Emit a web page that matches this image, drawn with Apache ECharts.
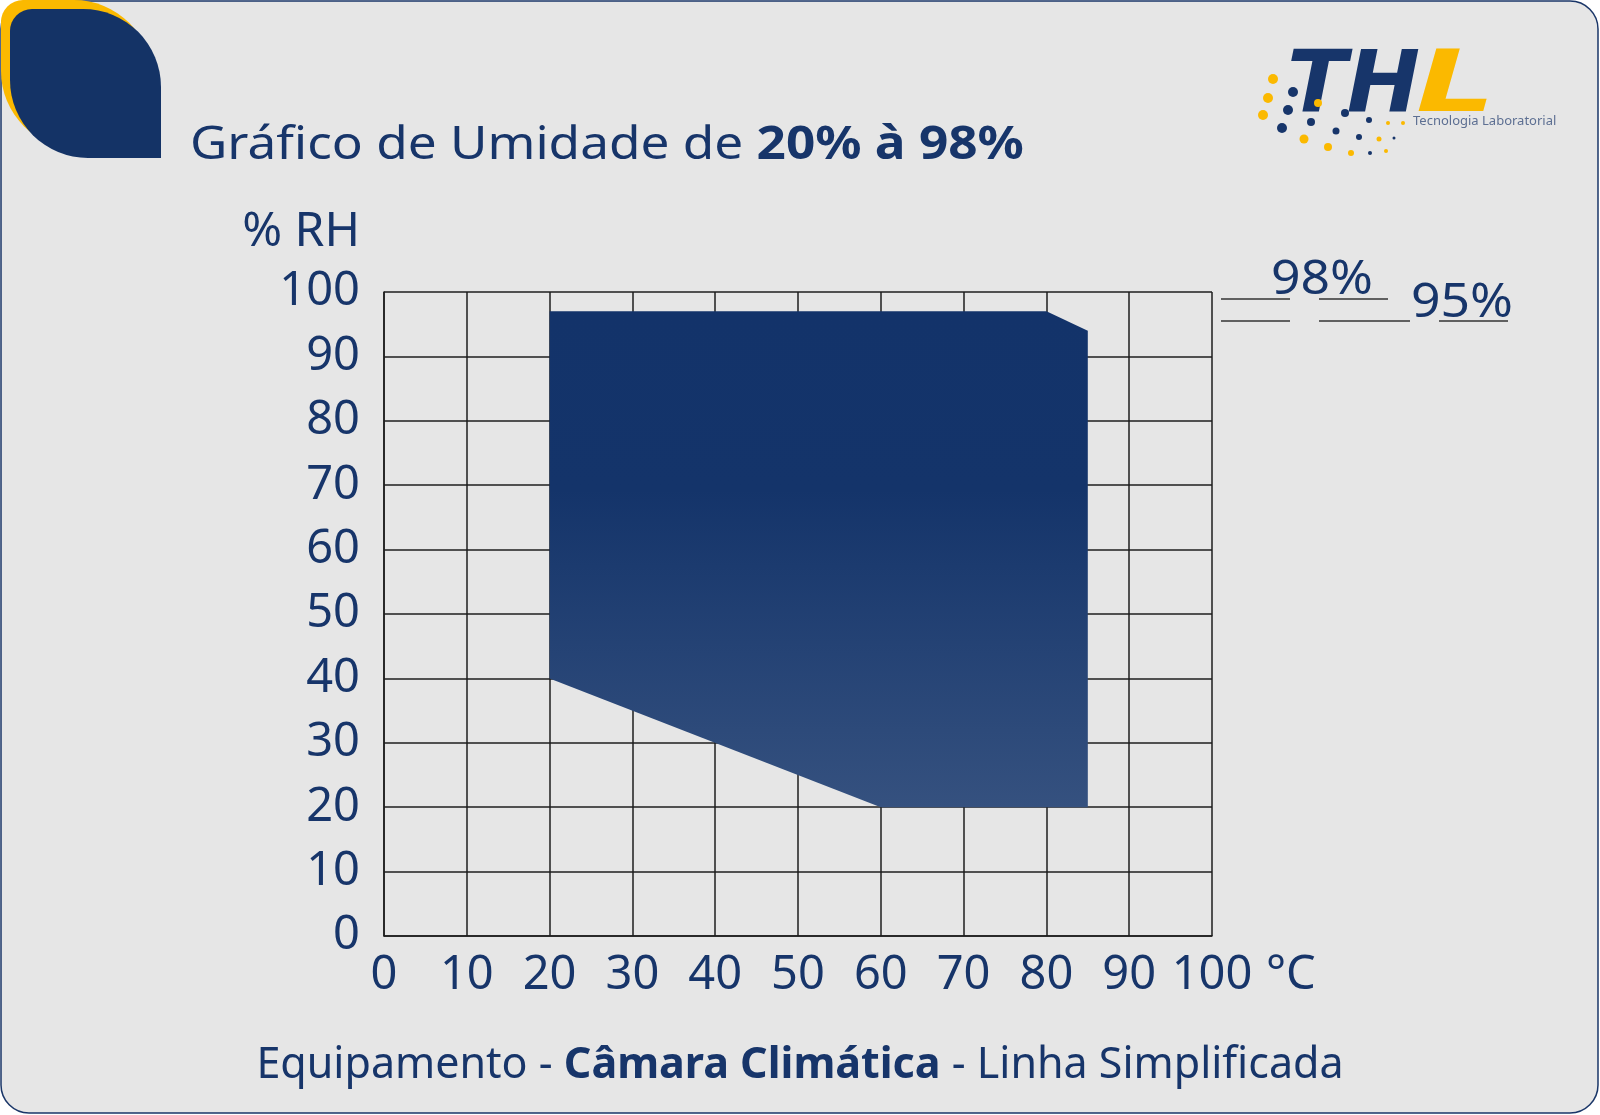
<!DOCTYPE html>
<html><head><meta charset="utf-8">
<script src="https://cdn.jsdelivr.net/npm/echarts@6/dist/echarts.min.js"></script>
<style>html,body{margin:0;padding:0;background:#ffffff;}#c{width:1600px;height:1115px;}</style>
</head><body><div id="c"></div>
<script>
// ---- data ----
const temperatureC = [20, 80, 85, 85, 60, 20];   // polygon vertices (°C)
const humidityRH   = [97, 97, 94, 20, 20, 40];   // polygon vertices (% RH)
const xTicks = [0, 10, 20, 30, 40, 50, 60, 70, 80, 90, 100];
const yTicks = [0, 10, 20, 30, 40, 50, 60, 70, 80, 90, 100];
const rangeLabels = ['98%', '95%'];
const titleNormal = 'Gráfico de Umidade de ';
const titleBold = '20% à 98%';
const footerParts = ['Equipamento - ', 'Câmara Climática', ' - Linha Simplificada'];
const xName = '°C';
const yName = '% RH';

const NAVY = '#17356a';
const FONT = 'Noto Sans';

const chart = echarts.init(document.getElementById('c'));

const logoDots = [
  // [x, y, r, colour]
  [1273, 79, 5, '#fbb900'], [1268, 98, 5, '#fbb900'], [1263, 115, 5, '#fbb900'],
  [1304, 139, 4.5, '#fbb900'], [1328, 147, 4, '#fbb900'], [1351, 153, 3, '#fbb900'],
  [1379, 139, 2.5, '#fbb900'], [1386, 151, 2, '#fbb900'], [1388, 123, 2, '#fbb900'],
  [1403, 123, 2, '#fbb900'], [1318, 103, 4, '#fbb900'],
  [1293, 92, 5, NAVY], [1288, 110, 5, NAVY], [1282, 128, 5, NAVY],
  [1311, 122, 4, NAVY], [1345, 113, 4, NAVY], [1336, 131, 3.5, NAVY],
  [1369, 120, 3, NAVY], [1359, 137, 3, NAVY], [1370, 153, 2, NAVY], [1394, 138, 1.5, NAVY]
];

const graphics = [
  { type: 'rect', z: -10, shape: { x: 1, y: 1, width: 1597, height: 1112, r: 28 },
    style: { fill: '#e6e6e6', stroke: '#1a3668', lineWidth: 1.5 } },
  { type: 'rect', z: -5, shape: { x: 1, y: 0, width: 151, height: 149, r: [22, 78, 0, 78] },
    style: { fill: '#fbb900' } },
  { type: 'rect', z: -4, shape: { x: 10, y: 9, width: 151, height: 149, r: [22, 78, 0, 78] },
    style: { fill: '#143366' } },
  // title
  { type: 'text', x: 190, y: 123, scaleX: 1.115,
    style: { text: '{n|' + titleNormal + '}{b|' + titleBold + '}', textVerticalAlign: 'top',
      rich: {
        n: { fontFamily: FONT, fontSize: 46, fill: NAVY, color: NAVY, fontWeight: 400 },
        b: { fontFamily: FONT, fontSize: 46, fill: NAVY, color: NAVY, fontWeight: 700 } } } },
  // range annotations
  { type: 'line', shape: { x1: 1221, y1: 299, x2: 1290, y2: 299 }, style: { stroke: '#333', lineWidth: 1.5 } },
  { type: 'line', shape: { x1: 1319, y1: 299, x2: 1388, y2: 299 }, style: { stroke: '#333', lineWidth: 1.5 } },
  { type: 'line', shape: { x1: 1221, y1: 321, x2: 1290, y2: 321 }, style: { stroke: '#333', lineWidth: 1.5 } },
  { type: 'line', shape: { x1: 1319, y1: 321, x2: 1410, y2: 321 }, style: { stroke: '#333', lineWidth: 1.5 } },
  { type: 'line', shape: { x1: 1439, y1: 321, x2: 1508, y2: 321 }, style: { stroke: '#333', lineWidth: 1.5 } },
  { type: 'text', x: 1322, y: 304, scaleX: 1.1, style: { x: 0, y: 0, text: rangeLabels[0], fill: NAVY, font: '47px "' + FONT + '"',
    textAlign: 'center', textVerticalAlign: 'bottom' } },
  { type: 'text', x: 1462, y: 327, scaleX: 1.1, style: { x: 0, y: 0, text: rangeLabels[1], fill: NAVY, font: '47px "' + FONT + '"',
    textAlign: 'center', textVerticalAlign: 'bottom' } },
  // logo
  { type: 'text', x: 1287, y: 132, scaleX: 1.02, style: { x: 0, y: 0, text: 'TH', fill: NAVY,
    font: 'italic 900 86px "DejaVu Sans"', textVerticalAlign: 'bottom' } },
  { type: 'text', x: 1416, y: 132, scaleX: 1.45, style: { x: 0, y: 0, text: 'L', fill: '#fbb900',
    font: 'italic 900 86px "DejaVu Sans"', textVerticalAlign: 'bottom' } },
  { type: 'text', style: { x: 1413, y: 121, text: 'Tecnologia Laboratorial', fill: '#5d6f92',
    font: '13px "' + FONT + '"', textVerticalAlign: 'middle' } }
];
logoDots.forEach(d => graphics.push({ type: 'circle', shape: { cx: d[0], cy: d[1], r: d[2] }, style: { fill: d[3] } }));

const gridLine = { color: '#1e1e1e', width: 1.5 };

chart.setOption({
  backgroundColor: 'transparent',
  animation: false,
  title: [
    { left: 'center', top: 1039, text: '{n|' + footerParts[0] + '}{b|' + footerParts[1] + '}{n|' + footerParts[2] + '}',
      textStyle: { rich: {
        n: { fontFamily: FONT, fontSize: 43, color: NAVY, fontWeight: 400 },
        b: { fontFamily: FONT, fontSize: 43, color: NAVY, fontWeight: 700 } } } }
  ],
  graphic: graphics,
  grid: { left: 384, top: 292, right: 388, bottom: 179, outerBoundsMode: 'none' },
  xAxis: {
    type: 'value', min: xTicks[0], max: xTicks[xTicks.length - 1], interval: xTicks[1] - xTicks[0],
    axisLine: { show: true, lineStyle: gridLine },
    axisTick: { show: false },
    splitLine: { show: true, lineStyle: gridLine },
    axisLabel: { color: NAVY, fontFamily: FONT, fontSize: 47, margin: 16 },
    name: xName, nameLocation: 'end', nameGap: 54,
    nameTextStyle: { color: NAVY, fontFamily: FONT, fontSize: 47, align: 'left', verticalAlign: 'top', padding: [16, 0, 0, 0] }
  },
  yAxis: {
    type: 'value', min: yTicks[0], max: yTicks[yTicks.length - 1], interval: yTicks[1] - yTicks[0],
    axisLine: { show: true, lineStyle: gridLine },
    axisTick: { show: false },
    splitLine: { show: true, lineStyle: gridLine },
    axisLabel: { color: NAVY, fontFamily: FONT, fontSize: 47, margin: 24, padding: [8, 0, 0, 0] },
    name: yName, nameLocation: 'end', nameGap: 36,
    nameTextStyle: { color: NAVY, fontFamily: FONT, fontSize: 48, align: 'right', verticalAlign: 'bottom', padding: [0, 24, 0, 0] }
  },
  series: [{
    type: 'custom',
    z: 5,
    data: temperatureC.map((t, i) => [t, humidityRH[i]]),
    renderItem: function (params, api) {
      if (params.dataIndex !== 0) return null;
      const pts = temperatureC.map((t, i) => api.coord([t, humidityRH[i]]));
      return {
        type: 'polygon',
        shape: { points: pts },
        style: { fill: new echarts.graphic.LinearGradient(0, 0, 0, 1, [
          { offset: 0, color: '#13336a' }, { offset: 0.36, color: '#14346a' }, { offset: 1, color: '#35517f' }
        ]) }
      };
    }
  }]
});
</script></body></html>
